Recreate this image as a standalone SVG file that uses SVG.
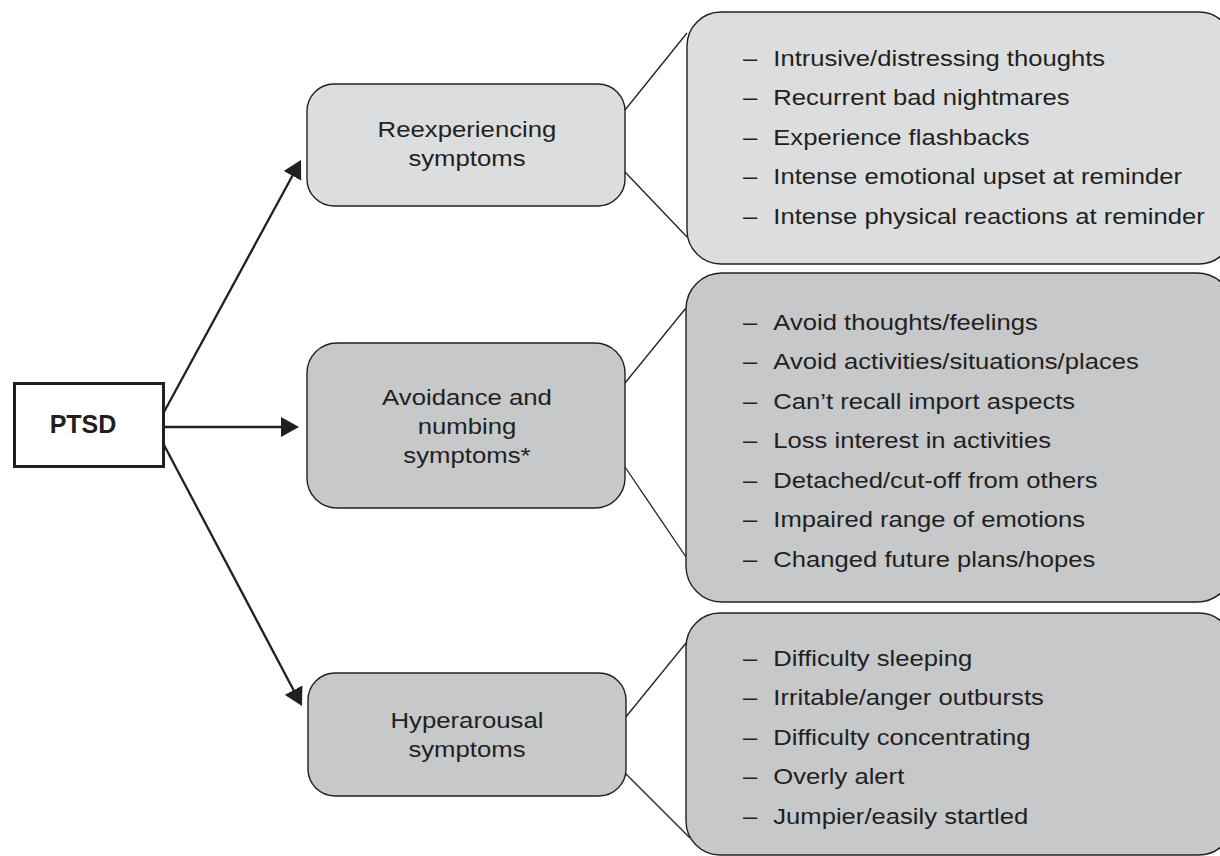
<svg xmlns="http://www.w3.org/2000/svg" width="1220" height="856" viewBox="0 0 1220 856">
<defs>
<style>
.t{font-family:"Liberation Sans",Arial,sans-serif;font-size:22px;fill:#231f20}
.c{text-anchor:middle}
.b{font-weight:bold;font-size:25px}
.light{fill:#dcdddf;stroke:#231f20;stroke-width:1.4}
.dark{fill:#c7c8ca;stroke:#231f20;stroke-width:1.4}
.conn{stroke:#231f20;stroke-width:1.3;fill:none}
.arrow{stroke:#231f20;stroke-width:2.3;fill:none;marker-end:url(#ah)}
</style>
<marker id="ah" viewBox="0 0 18 20" refX="14" refY="10" markerWidth="18" markerHeight="20" markerUnits="userSpaceOnUse" orient="auto">
<path d="M0,0 L18,10 L0,20 z" fill="#231f20"/>
</marker>
</defs>
<rect width="1220" height="856" fill="#ffffff"/>
<g id="connectors">
<line class="arrow" x1="164" y1="412" x2="299.1" y2="163.5"/>
<line class="arrow" x1="164" y1="427" x2="295" y2="427"/>
<line class="arrow" x1="164" y1="445" x2="300.1" y2="702.5"/>
<line class="conn" x1="625" y1="110" x2="687" y2="33"/>
<line class="conn" x1="625" y1="172" x2="687" y2="237"/>
<line class="conn" x1="625" y1="383" x2="686" y2="308"/>
<line class="conn" x1="625" y1="467" x2="686" y2="557"/>
<line class="conn" x1="625" y1="718" x2="686" y2="643"/>
<line class="conn" x1="625" y1="773" x2="690" y2="838"/>
</g>
<g id="ptsd">
<rect x="14.5" y="383.5" width="149" height="83" fill="#ffffff" stroke="#231f20" stroke-width="3"/>
<text class="t b c" x="83" y="433">PTSD</text>
</g>
<g id="reexperiencing">
<rect class="light" x="307" y="84" width="318" height="122" rx="27"/>
<g transform="translate(467,0) scale(1.17,1)">
<text class="t c" x="0" y="137">Reexperiencing</text>
<text class="t c" x="0" y="166">symptoms</text>
</g>
</g>
<g id="avoidance">
<rect class="dark" x="307" y="343" width="318" height="165" rx="30"/>
<g transform="translate(467,0) scale(1.17,1)">
<text class="t c" x="0" y="405">Avoidance and</text>
<text class="t c" x="0" y="434">numbing</text>
<text class="t c" x="0" y="463">symptoms*</text>
</g>
</g>
<g id="hyperarousal">
<rect class="dark" x="308" y="673" width="318" height="123" rx="27"/>
<g transform="translate(467,0) scale(1.17,1)">
<text class="t c" x="0" y="728">Hyperarousal</text>
<text class="t c" x="0" y="757">symptoms</text>
</g>
</g>
<g id="reexperiencing-list">
<rect class="light" x="687" y="12" width="546" height="252" rx="34"/>
<g transform="translate(743,0) scale(1.165,1)">
<text class="t" x="0" y="66">–</text><text class="t" x="26" y="66">Intrusive/distressing thoughts</text>
<text class="t" x="0" y="105.5">–</text><text class="t" x="26" y="105.5">Recurrent bad nightmares</text>
<text class="t" x="0" y="145">–</text><text class="t" x="26" y="145">Experience flashbacks</text>
<text class="t" x="0" y="184.5">–</text><text class="t" x="26" y="184.5">Intense emotional upset at reminder</text>
<text class="t" x="0" y="224">–</text><text class="t" x="26" y="224">Intense physical reactions at reminder</text>
</g>
</g>
<g id="avoidance-list">
<rect class="dark" x="686" y="273" width="547" height="329" rx="36"/>
<g transform="translate(743,0) scale(1.165,1)">
<text class="t" x="0" y="330">–</text><text class="t" x="26" y="330">Avoid thoughts/feelings</text>
<text class="t" x="0" y="369.5">–</text><text class="t" x="26" y="369.5">Avoid activities/situations/places</text>
<text class="t" x="0" y="409">–</text><text class="t" x="26" y="409">Can’t recall import aspects</text>
<text class="t" x="0" y="448.5">–</text><text class="t" x="26" y="448.5">Loss interest in activities</text>
<text class="t" x="0" y="488">–</text><text class="t" x="26" y="488">Detached/cut-off from others</text>
<text class="t" x="0" y="527.5">–</text><text class="t" x="26" y="527.5">Impaired range of emotions</text>
<text class="t" x="0" y="567">–</text><text class="t" x="26" y="567">Changed future plans/hopes</text>
</g>
</g>
<g id="hyperarousal-list">
<rect class="dark" x="686" y="613" width="547" height="242" rx="34"/>
<g transform="translate(743,0) scale(1.165,1)">
<text class="t" x="0" y="666">–</text><text class="t" x="26" y="666">Difficulty sleeping</text>
<text class="t" x="0" y="705.5">–</text><text class="t" x="26" y="705.5">Irritable/anger outbursts</text>
<text class="t" x="0" y="745">–</text><text class="t" x="26" y="745">Difficulty concentrating</text>
<text class="t" x="0" y="784.5">–</text><text class="t" x="26" y="784.5">Overly alert</text>
<text class="t" x="0" y="824">–</text><text class="t" x="26" y="824">Jumpier/easily startled</text>
</g>
</g>
</svg>
